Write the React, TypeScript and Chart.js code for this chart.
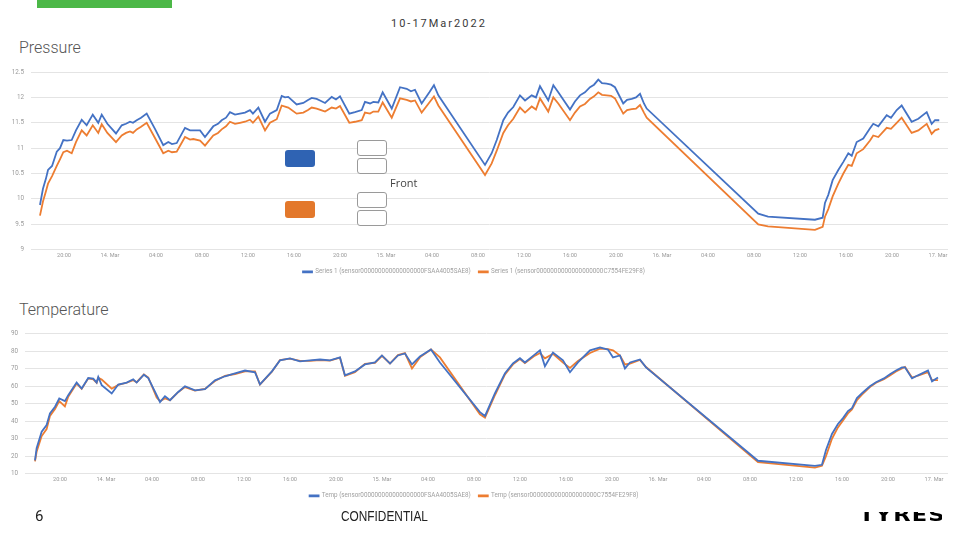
import React, { useEffect, useRef } from "react";
import { Chart, registerables } from "chart.js";

Chart.register(...registerables);

// ---------- data ----------
const xTickHours = [20, 24, 28, 32, 36, 40, 44, 48, 52, 56, 60, 64, 68, 72, 76, 80, 84, 88, 92, 96];

const pressureTicks = [9, 9.5, 10, 10.5, 11, 11.5, 12, 12.5];
const pressureHours = [
  17.91, 18.17, 18.43, 18.61, 18.96, 19.37, 19.65, 19.94, 20.26, 20.67, 21.04, 21.54, 21.97, 22.5, 22.98,
  23.28, 23.77, 24.52, 25.02, 25.39, 25.74, 26.0, 26.32, 26.7, 27.19, 27.91, 28.63, 29.07, 29.39, 29.8,
  30.52, 30.96, 31.24, 31.83, 32.26, 32.98, 33.39, 33.71, 34.09, 34.43, 34.87, 35.3, 35.74, 36.17, 36.43,
  36.9, 37.48, 37.91, 38.5, 38.93, 39.22, 39.5, 40.23, 40.81, 41.22, 41.54, 41.97, 42.35, 42.7, 43.28,
  43.65, 44.0, 44.81, 45.3, 45.89, 46.17, 46.61, 46.9, 47.33, 47.71, 48.5, 49.22, 49.8, 50.17, 50.52,
  51.1, 51.77, 52.17, 52.55, 56.61, 57.19, 57.63, 58.2, 58.61, 59.07, 59.65, 60.09, 60.67, 61.04, 61.39,
  62.11, 62.55, 62.98, 64.0, 64.43, 64.87, 65.3, 65.74, 66.09, 66.46, 66.78, 67.19, 67.57, 67.91, 68.63,
  68.96, 69.37, 69.74, 70.09, 70.43, 70.67, 80.37, 81.22, 85.3, 85.97, 86.17, 86.46, 86.84, 87.33, 87.77,
  88.2, 88.5, 88.93, 89.5, 90.09, 90.37, 90.81, 91.54, 91.91, 92.41, 92.84, 93.71, 94.29, 95.02, 95.45,
  95.74, 96.11,
];
const pressureSensorA = [
  9.88, 10.2, 10.4, 10.57, 10.65, 10.93, 11.0, 11.16, 11.15, 11.16, 11.35, 11.56, 11.45, 11.66, 11.5,
  11.66, 11.48, 11.29, 11.45, 11.48, 11.52, 11.5, 11.55, 11.6, 11.68, 11.38, 11.06, 11.12, 11.08, 11.1,
  11.4, 11.35, 11.35, 11.35, 11.22, 11.43, 11.48, 11.55, 11.6, 11.71, 11.66, 11.68, 11.7, 11.75, 11.68,
  11.8, 11.52, 11.68, 11.75, 12.03, 12.0, 12.01, 11.86, 11.89, 11.95, 11.99, 11.97, 11.93, 11.89, 12.01,
  11.96, 12.02, 11.68, 11.71, 11.75, 11.91, 11.88, 11.91, 11.9, 12.1, 11.78, 12.2, 12.17, 12.12, 12.15,
  11.88, 12.1, 12.24, 12.04, 10.67, 10.9, 11.16, 11.55, 11.7, 11.81, 12.04, 11.94, 12.04, 12.0, 12.22,
  11.94, 12.24, 12.1, 11.76, 11.92, 12.04, 12.1, 12.2, 12.25, 12.35, 12.28, 12.27, 12.25, 12.2, 11.88,
  11.95, 11.97, 12.0, 12.07, 11.88, 11.78, 9.71, 9.65, 9.59, 9.63, 9.92, 10.08, 10.37, 10.57, 10.73,
  10.9, 10.85, 11.12, 11.19, 11.39, 11.48, 11.43, 11.65, 11.6, 11.75, 11.84, 11.52, 11.58, 11.71, 11.48,
  11.55, 11.55,
];
const pressureSensorB = [
  9.67, 9.95, 10.15, 10.3, 10.45, 10.65, 10.78, 10.92, 10.95, 10.9, 11.12, 11.35, 11.25, 11.45, 11.3,
  11.47, 11.3, 11.12, 11.25, 11.3, 11.33, 11.3, 11.37, 11.42, 11.5, 11.2, 10.9, 10.95, 10.92, 10.93,
  11.22, 11.17, 11.18, 11.15, 11.05, 11.25, 11.3, 11.37, 11.43, 11.52, 11.48, 11.5, 11.52, 11.56, 11.5,
  11.62, 11.35, 11.5, 11.57, 11.84, 11.82, 11.8, 11.68, 11.7, 11.75, 11.8, 11.78, 11.75, 11.72, 11.8,
  11.78, 11.83, 11.5, 11.52, 11.55, 11.7, 11.68, 11.72, 11.72, 11.9, 11.6, 11.98, 11.95, 11.92, 11.94,
  11.7, 11.9, 12.02, 11.84, 10.47, 10.7, 10.95, 11.3, 11.45, 11.58, 11.8, 11.7, 11.82, 11.76, 11.98,
  11.72, 12.0, 11.88, 11.55, 11.7, 11.82, 11.87, 11.97, 12.02, 12.1, 12.05, 12.04, 12.03, 11.98, 11.68,
  11.75, 11.77, 11.78, 11.85, 11.7, 11.6, 9.5, 9.46, 9.39, 9.45, 9.65, 9.8, 10.05, 10.3, 10.5,
  10.67, 10.65, 10.9, 10.98, 11.15, 11.25, 11.22, 11.4, 11.38, 11.5, 11.6, 11.3, 11.35, 11.48, 11.28,
  11.35, 11.38,
];

const tempTicks = [10, 20, 30, 40, 50, 60, 70, 80, 90];
const tempHours = [
  17.83, 17.97, 18.41, 18.84, 19.13, 19.57, 19.94, 20.43, 20.72, 21.45, 21.89, 22.46, 22.9, 23.19, 23.33,
  23.63, 24.5, 25.07, 25.8, 26.37, 26.67, 27.3, 27.68, 28.41, 28.7, 29.13, 29.57, 30.26, 30.87, 31.74,
  32.61, 33.48, 34.35, 35.22, 36.09, 36.96, 37.39, 38.43, 39.13, 40.0, 40.87, 41.74, 42.61, 43.48, 44.35,
  44.78, 45.65, 46.52, 47.39, 48.0, 48.7, 49.39, 50.0, 50.61, 51.3, 52.26, 53.04, 56.52, 56.96, 57.83,
  58.7, 59.39, 60.0, 60.43, 61.3, 61.74, 62.17, 62.87, 63.74, 64.35, 65.04, 66.09, 66.96, 67.65, 68.09,
  68.7, 69.13, 69.57, 70.43, 70.96, 80.7, 85.65, 86.26, 86.61, 87.13, 87.65, 88.09, 88.52, 88.87, 89.3,
  89.74, 90.43, 90.96, 91.65, 92.17, 92.7, 93.22, 93.48, 94.09, 94.61, 95.48, 95.83, 96.35,
];
const tempSensorA = [
  17.6, 24.6, 34, 37.8, 44.5, 48.3, 53, 51.5, 54.9, 62.1, 58.7, 64.7, 64.4, 62.1, 65.3,
  60.6, 55.9, 61, 62.1, 64, 62.1, 66.6, 64.7, 54.9, 50.9, 54.3, 52, 56.6, 60, 57.7,
  58.3, 63.4, 65.7, 67.4, 69, 68, 61.1, 68.5, 74.8, 75.9, 74.2, 74.8, 75.3, 74.8, 76.5,
  66.25, 68.5, 72.5, 73.6, 77.6, 73, 77.6, 78.75, 72.5, 77, 81, 73.6, 45.2, 43, 56,
  67.4, 73, 76, 73.6, 78.2, 80.5, 71.4, 79.3, 74.8, 68, 73.6, 80.5, 82.2, 81, 76.5,
  77.6, 70.2, 73.6, 75.3, 70.8, 17.4, 14.5, 15.1, 23.6, 32.7, 38.4, 41.8, 45.8, 47.5, 53.2,
  56, 60, 62.3, 64.5, 66.8, 69, 70.8, 70.8, 64.5, 66.25, 69, 62.8, 65,
];
const tempSensorB = [
  17.0, 22.5, 31.5, 35.5, 43, 47, 51.5, 48.5, 54, 61.5, 58.5, 64.5, 64, 62, 64.8,
  63.8, 58.6, 60.8, 62, 63.5, 62.3, 66.8, 65, 53.5, 51.5, 53, 52, 56.5, 59.5, 57.5,
  58.5, 63, 66, 67, 68.5, 68.5, 61, 68.3, 75, 75.8, 74.5, 74.5, 75, 74.6, 76.3,
  66, 68, 72.8, 73.3, 77.4, 73, 77.8, 79, 70.2, 76.5, 81, 76.5, 44, 42, 55,
  66.8, 72.5, 75.5, 73.2, 77.5, 79, 76, 78.5, 73.5, 70.5, 74.5, 79, 81.5, 81.2, 80.5,
  77.5, 72.5, 73, 75, 71, 16.6, 13.5, 14.5, 20, 30, 36.5, 40.5, 44.5, 46.8, 52,
  55.2, 59.5, 62, 64, 66.2, 68.5, 70.2, 71, 65, 66, 68, 63.5, 63.5,
];

const pressureLegend = [
  "Series 1 (sensor000000000000000000FSAA4005SAE8)",
  "Series 1 (sensor0000000000000000000C7554FE29F8)",
];
const tempLegend = [
  "Temp (sensor000000000000000000FSAA4005SAE8)",
  "Temp (sensor0000000000000000000C7554FE29F8)",
];

const BLUE = "#4472c4";
const ORANGE = "#ed7d31";

function fmtHour(v: number): string {
  if (v % 24 === 0) return `${13 + v / 24}. Mar`;
  const h = v % 24;
  return `${h < 10 ? "0" : ""}${h}:00`;
}

type Cfg = {
  hours: number[];
  a: number[];
  b: number[];
  labels: string[];
  yTicks: number[];
  xMin: number;
  xMax: number;
  yWidth: number;
  padTop: number;
  padRight: number;
  padBottom: number;
};

function buildConfig(c: Cfg): any {
  const ds = (vals: number[], color: string, label: string) => ({
    label,
    data: c.hours.map((h, i) => ({ x: h, y: vals[i] })),
    borderColor: color,
    backgroundColor: color,
    borderWidth: 1.8,
    pointRadius: 0,
    tension: 0,
    fill: false,
  });
  return {
    type: "line",
    data: { datasets: [ds(c.a, BLUE, c.labels[0]), ds(c.b, ORANGE, c.labels[1])] },
    options: {
      animation: false,
      responsive: false,
      events: [],
      layout: { padding: { top: c.padTop, left: 0, right: c.padRight, bottom: c.padBottom } },
      plugins: {
        legend: {
          position: "bottom",
          labels: {
            boxWidth: 9,
            boxHeight: 1,
            padding: 8,
            color: "#a0a0a0",
            font: { size: 6.3, family: "Roboto" },
          },
        },
        tooltip: { enabled: false },
      },
      scales: {
        x: {
          type: "linear",
          min: c.xMin,
          max: c.xMax,
          afterBuildTicks: (s: any) => {
            s.ticks = xTickHours.map((v) => ({ value: v }));
          },
          afterFit: (s: any) => {
            s.height = 11;
          },
          ticks: {
            callback: (v: any) => fmtHour(Number(v)),
            color: "#9a9a9a",
            font: { size: 5.6, family: "Roboto" },
            maxRotation: 0,
            autoSkip: false,
            padding: 3,
          },
          grid: { display: false, drawTicks: false },
          border: { display: false },
        },
        y: {
          min: c.yTicks[0],
          max: c.yTicks[c.yTicks.length - 1],
          afterBuildTicks: (s: any) => {
            s.ticks = c.yTicks.map((v) => ({ value: v }));
          },
          afterFit: (s: any) => {
            s.width = c.yWidth;
          },
          ticks: {
            callback: (v: any) => String(v),
            color: "#9a9a9a",
            font: { size: 6.3, family: "Roboto" },
            padding: 7,
          },
          grid: { color: "#e4e4e4", lineWidth: 1, drawTicks: false },
          border: { display: false },
        },
      },
    },
  };
}

function LineChart(props: { cfg: Cfg; left: number; top: number; width: number; height: number }) {
  const ref = useRef<HTMLCanvasElement | null>(null);
  useEffect(() => {
    if (!ref.current) return;
    const chart = new Chart(ref.current, buildConfig(props.cfg));
    return () => chart.destroy();
  }, []);
  return (
    <canvas
      ref={ref}
      width={props.width}
      height={props.height}
      style={{ position: "absolute", left: props.left, top: props.top, width: props.width, height: props.height }}
    />
  );
}

const grayBox = (top: number): React.CSSProperties => ({
  position: "absolute",
  left: 357,
  top,
  width: 28,
  height: 14,
  border: "1.6px solid #9a9a9a",
  borderRadius: 3,
  background: "#fff",
});

export default function App() {
  return (
    <div
      style={{
        position: "absolute",
        left: 0,
        top: 0,
        width: 960,
        height: 540,
        background: "#fff",
        overflow: "hidden",
        fontFamily: "Roboto, 'DejaVu Sans', sans-serif",
      }}
    >
      <div style={{ position: "absolute", left: 37, top: 0, width: 135, height: 8, background: "#4cb847" }} />
      <div
        style={{
          position: "absolute",
          left: 391,
          top: 17,
          fontSize: 11,
          fontWeight: 400,
          letterSpacing: 2,
          color: "#3a3a3a",
          lineHeight: "14px",
          whiteSpace: "nowrap",
        }}
      >
        10-17Mar2022
      </div>
      <div style={{ position: "absolute", left: 19, top: 38, fontSize: 16, fontWeight: 300, color: "#555", lineHeight: "20px" }}>
        Pressure
      </div>
      <LineChart
        cfg={{
          hours: pressureHours,
          a: pressureSensorA,
          b: pressureSensorB,
          labels: pressureLegend,
          yTicks: pressureTicks,
          xMin: 17.13,
          xMax: 96.87,
          yWidth: 31,
          padTop: 12,
          padRight: 12,
          padBottom: 1,
        }}
        left={0}
        top={60}
        width={960}
        height={226}
      />
      <div style={{ position: "absolute", left: 285, top: 150, width: 30, height: 17, borderRadius: 3, background: "#2f63b3" }} />
      <div style={{ position: "absolute", left: 285, top: 201, width: 30, height: 17, borderRadius: 3, background: "#e3782b" }} />
      <div style={grayBox(140)} />
      <div style={grayBox(158)} />
      <div style={grayBox(192)} />
      <div style={grayBox(210)} />
      <div
        style={{ position: "absolute", left: 390, top: 176, fontSize: 11, color: "#444", lineHeight: "14px", fontFamily: "'Open Sans', sans-serif" }}
      >
        Front
      </div>

      <div style={{ position: "absolute", left: 19, top: 300, fontSize: 16, fontWeight: 300, color: "#555", lineHeight: "20px" }}>
        Temperature
      </div>
      <LineChart
        cfg={{
          hours: tempHours,
          a: tempSensorA,
          b: tempSensorB,
          labels: tempLegend,
          yTicks: tempTicks,
          xMin: 16.96,
          xMax: 97.22,
          yWidth: 25,
          padTop: 10,
          padRight: 12,
          padBottom: 1,
        }}
        left={0}
        top={323}
        width={960}
        height={187}
      />

      <div style={{ position: "absolute", left: 35, top: 507, fontSize: 15, color: "#222", lineHeight: "18px" }}>6</div>
      <div
        style={{
          position: "absolute",
          left: 341,
          top: 507,
          fontSize: 15,
          color: "#222",
          lineHeight: "18px",
          fontFamily: "'Liberation Sans', sans-serif",
          transform: "scaleX(0.79)",
          transformOrigin: "left top",
          whiteSpace: "nowrap",
        }}
      >
        CONFIDENTIAL
      </div>
      <div style={{ position: "absolute", left: 862, top: 512, width: 80, height: 10, overflow: "hidden" }}>
        <div
          style={{
            position: "absolute",
            left: -3,
            top: -6,
            fontSize: 18,
            fontWeight: 900,
            lineHeight: "18px",
            fontFamily: "'DejaVu Sans', sans-serif",
            color: "#000",
            transform: "scaleX(1.25)",
            transformOrigin: "left top",
            whiteSpace: "nowrap",
            letterSpacing: 1,
          }}
        >
          TYRES
        </div>
      </div>
    </div>
  );
}
